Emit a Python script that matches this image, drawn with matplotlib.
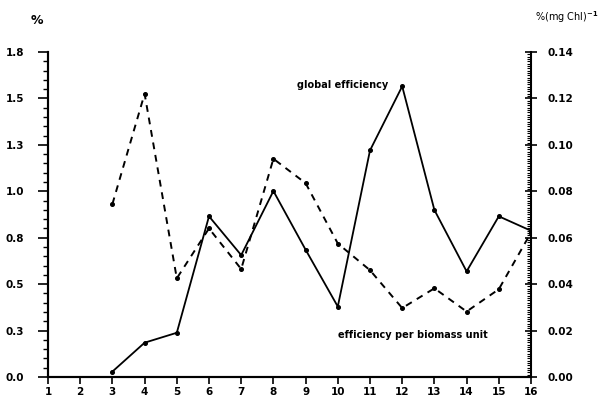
import numpy as np
import matplotlib
matplotlib.use("Agg")
import matplotlib.pyplot as plt
from matplotlib.ticker import FixedLocator, MultipleLocator, FuncFormatter

# sampling points (x axis)
days = [3, 4, 5, 6, 7, 8, 9, 10, 11, 12, 13, 14, 15, 16]

# global efficiency, % (left axis)
global_eff = [0.03, 0.19, 0.245, 0.89, 0.675, 1.03, 0.705, 0.39, 1.255,
              1.61, 0.925, 0.585, 0.89, 0.81]

# efficiency per biomass unit, %(mg Chl)^-1 (right axis)
biomass_eff = [0.0745, 0.122, 0.0425, 0.064, 0.0465, 0.094, 0.0835, 0.0575,
               0.046, 0.0297, 0.0382, 0.0282, 0.0378, 0.0622]

x_ticks = list(range(1, 17))
left_ticks = np.linspace(0, 1.8, 8)
right_ticks = np.linspace(0, 0.14, 8)

plt.rcParams['font.family'] = ['DejaVu Sans']
plt.rcParams['font.weight'] = 'bold'

fig = plt.figure(figsize=(6.02, 3.96), dpi=100)
ax = fig.add_axes([48 / 602, 19 / 396, 483 / 602, 325 / 396])
ax2 = ax.twinx()

ax.plot(days, global_eff, color='black', lw=1.3, marker='o', ms=2.6,
        solid_joinstyle='miter', zorder=3)
ax2.plot(days, biomass_eff, color='black', lw=1.4, ls=(0, (3.5, 3)),
         marker='o', ms=2.6, zorder=3)

ax.set_xlim(1, 16)
ax.set_ylim(0, 1.8)
ax2.set_ylim(0, 0.14)

ax.xaxis.set_major_locator(FixedLocator(x_ticks))
ax.yaxis.set_major_locator(FixedLocator(left_ticks))
ax.yaxis.set_major_formatter(FuncFormatter(lambda v, p: f"{v:.1f}"))
ax.yaxis.set_minor_locator(MultipleLocator(1.8 / 35))
ax2.yaxis.set_major_locator(FixedLocator(right_ticks))
ax2.yaxis.set_major_formatter(FuncFormatter(lambda v, p: f"{v:.2f}"))
ax2.yaxis.set_minor_locator(MultipleLocator(0.001))

for a in (ax, ax2):
    a.spines['top'].set_visible(False)
    for s in a.spines.values():
        s.set_linewidth(1.5)
ax.spines['right'].set_visible(False)

ax.tick_params(axis='x', direction='out', length=5, width=1.2,
               labelsize=7.5, pad=2)
ax.tick_params(axis='y', which='major', direction='out', length=7,
               width=1.2, labelsize=7.5, pad=10)
ax.tick_params(axis='y', which='minor', direction='out', length=3.5,
               width=1.0)
ax2.tick_params(axis='y', which='major', direction='inout', length=8,
                width=1.2, labelsize=7.5, pad=8)
ax2.tick_params(axis='y', which='minor', direction='in', length=3,
                width=0.8)

ax.text(11.56, 1.617, "global efficiency", ha='right', va='center',
        fontsize=7, fontweight='bold')
ax.text(10.0, 0.233, "efficiency per biomass unit", ha='left', va='center',
        fontsize=7, fontweight='bold')

fig.text(37 / 602, 1 - 20 / 396, "%", ha='center', va='center',
         fontsize=9)
fig.text(598 / 602, 1 - 17 / 396, "%(mg Chl)$^{-1}$", ha='right',
         va='center', fontsize=7, fontweight='normal')

fig.savefig("out.png", dpi=100)
